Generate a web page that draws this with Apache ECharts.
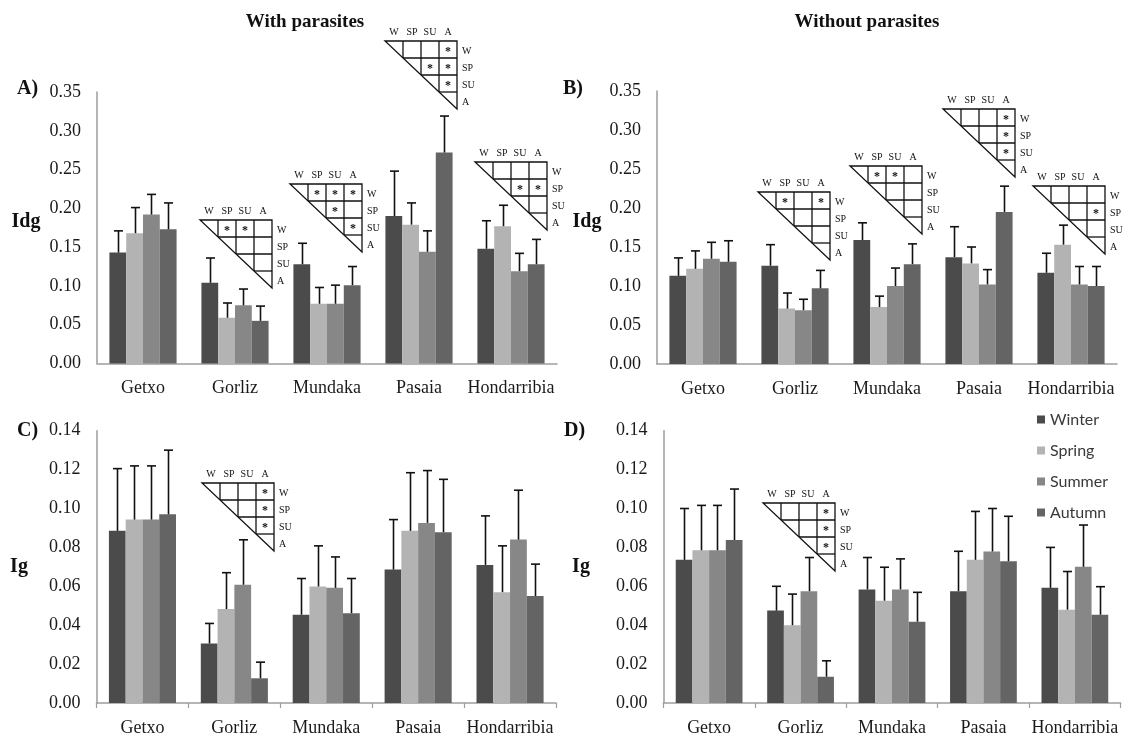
<!DOCTYPE html>
<html>
<head>
<meta charset="utf-8">
<script src="https://cdn.jsdelivr.net/npm/echarts@6/dist/echarts.min.js"></script>
<style>
  html, body { margin: 0; padding: 0; background: #fff; }
  #chart { width: 1129px; height: 737px; }
</style>
</head>
<body>
<div id="chart"></div>
<script>
// Sampling sites (x categories) and seasons (one bar series each)
const sites = ['Getxo', 'Gorliz', 'Mundaka', 'Pasaia', 'Hondarribia'];
const seasons = ['Winter', 'Spring', 'Summer', 'Autumn'];

// Axis tick values
const idgTicks = [0, 0.05, 0.10, 0.15, 0.20, 0.25, 0.30, 0.35];
const igTicks = [0, 0.02, 0.04, 0.06, 0.08, 0.10, 0.12, 0.14];

// Idg with parasites: rows Winter, Spring, Summer, Autumn; columns follow sites
const idgWithMean = [
  [0.143, 0.104, 0.128, 0.190, 0.148],
  [0.168, 0.059, 0.077, 0.179, 0.177],
  [0.192, 0.075, 0.077, 0.144, 0.119],
  [0.173, 0.055, 0.101, 0.272, 0.128]
];
const idgWithErr = [
  [0.028, 0.032, 0.027, 0.058, 0.036],
  [0.033, 0.019, 0.021, 0.028, 0.027],
  [0.026, 0.021, 0.024, 0.027, 0.023],
  [0.034, 0.019, 0.024, 0.047, 0.032]
];

// Idg without parasites
const idgWithoutMean = [
  [0.113, 0.126, 0.159, 0.137, 0.117],
  [0.122, 0.071, 0.073, 0.129, 0.153],
  [0.135, 0.069, 0.100, 0.102, 0.102],
  [0.131, 0.097, 0.128, 0.195, 0.100]
];
const idgWithoutErr = [
  [0.023, 0.027, 0.022, 0.039, 0.025],
  [0.023, 0.020, 0.014, 0.021, 0.025],
  [0.021, 0.014, 0.023, 0.019, 0.023],
  [0.027, 0.023, 0.026, 0.033, 0.025]
];

// Ig with parasites
const igWithMean = [
  [0.0885, 0.0306, 0.0454, 0.0686, 0.0710],
  [0.0943, 0.0483, 0.0599, 0.0885, 0.0570],
  [0.0943, 0.0608, 0.0592, 0.0926, 0.0840],
  [0.0970, 0.0127, 0.0462, 0.0878, 0.0550]
];
const igWithErr = [
  [0.0320, 0.0103, 0.0186, 0.0257, 0.0252],
  [0.0276, 0.0187, 0.0209, 0.0299, 0.0238],
  [0.0276, 0.0231, 0.0159, 0.0269, 0.0254],
  [0.0330, 0.0083, 0.0178, 0.0272, 0.0164]
];

// Ig without parasites
const igWithoutMean = [
  [0.0736, 0.0475, 0.0584, 0.0575, 0.0592],
  [0.0785, 0.0400, 0.0526, 0.0736, 0.0480],
  [0.0785, 0.0575, 0.0584, 0.0779, 0.0700],
  [0.0838, 0.0135, 0.0418, 0.0729, 0.0454]
];
const igWithoutErr = [
  [0.0264, 0.0125, 0.0164, 0.0205, 0.0208],
  [0.0231, 0.0160, 0.0172, 0.0249, 0.0196],
  [0.0231, 0.0173, 0.0157, 0.0221, 0.0215],
  [0.0262, 0.0082, 0.0151, 0.0231, 0.0144]
];

// Pairwise season differences marked with "*": [row, column] with W=0, SP=1, SU=2, A=3
const sigAGorliz = [[0, 1], [0, 2]];
const sigAMundaka = [[0, 1], [0, 2], [0, 3], [1, 2], [2, 3]];
const sigAPasaia = [[0, 3], [1, 2], [1, 3], [2, 3]];
const sigAHondarribia = [[1, 2], [1, 3]];
const sigBGorliz = [[0, 1], [0, 3]];
const sigBMundaka = [[0, 1], [0, 2]];
const sigBPasaia = [[0, 3], [1, 3], [2, 3]];
const sigBHondarribia = [[1, 3]];
const sigCGorliz = [[0, 3], [1, 3], [2, 3]];
const sigDGorliz = [[0, 3], [1, 3], [2, 3]];
const matrixLabels = ['W', 'SP', 'SU', 'A'];

// ---- presentation ----
const seasonColors = ['#4b4b4b', '#b3b3b3', '#878787', '#646464'];
const SERIF = 'Liberation Serif';
const CAT_GAP = 0.27;

const panels = [
  { mean: idgWithMean, err: idgWithErr, ticks: idgTicks, xTicks: false,
    grid: { left: 97, top: 92, width: 460, height: 271.5 } },
  { mean: idgWithoutMean, err: idgWithoutErr, ticks: idgTicks, xTicks: false,
    grid: { left: 657, top: 91, width: 460, height: 273 } },
  { mean: igWithMean, err: igWithErr, ticks: igTicks, xTicks: true,
    grid: { left: 96.5, top: 430.7, width: 459.5, height: 272.6 } },
  { mean: igWithoutMean, err: igWithoutErr, ticks: igTicks, xTicks: true,
    grid: { left: 663.4, top: 430.7, width: 457.2, height: 273.3 } }
];

const axisGray = '#9d9d9d';

const grids = panels.map(p => Object.assign({}, p.grid));

const xAxes = panels.map((p, i) => ({
  type: 'category',
  gridIndex: i,
  data: sites,
  axisLine: { lineStyle: { color: axisGray, width: 1.5 } },
  axisTick: { show: p.xTicks, length: 5, lineStyle: { color: axisGray, width: 1.2 } },
  axisLabel: { interval: 0, margin: 16, color: '#1a1a1a', fontFamily: SERIF, fontSize: 18 },
  splitLine: { show: false }
}));

const yAxes = panels.map((p, i) => ({
  type: 'value',
  gridIndex: i,
  min: p.ticks[0],
  max: p.ticks[p.ticks.length - 1],
  interval: p.ticks[1] - p.ticks[0],
  axisLine: { show: true, lineStyle: { color: axisGray, width: 1.5 } },
  axisTick: { show: false },
  splitLine: { show: false },
  axisLabel: {
    margin: 16, color: '#1a1a1a', fontFamily: SERIF, fontSize: 18,
    formatter: v => v.toFixed(2)
  }
}));

const series = [];
panels.forEach((p, pi) => {
  seasons.forEach((s, k) => {
    series.push({
      name: s,
      type: 'bar',
      xAxisIndex: pi,
      yAxisIndex: pi,
      data: p.mean[k],
      barGap: '0%',
      barCategoryGap: (CAT_GAP * 100) + '%',
      itemStyle: { color: seasonColors[k] },
      emphasis: { disabled: true }
    });
  });
  seasons.forEach((s, k) => {
    series.push({
      name: s + ' error',
      type: 'custom',
      xAxisIndex: pi,
      yAxisIndex: pi,
      z: 5,
      data: sites.map((site, i) => [i, p.mean[k][i], p.err[k][i]]),
      renderItem: (params, api) => {
        const xi = api.value(0);
        const m = api.value(1);
        const e = api.value(2);
        const base = api.coord([xi, m]);
        const top = api.coord([xi, m + e]);
        const band = api.size([1, 0])[0];
        const bw = band * (1 - CAT_GAP) / seasons.length;
        const x = Math.round(base[0] + (k - (seasons.length - 1) / 2) * bw) + 0.5;
        const st = { stroke: '#111', lineWidth: 1.6 };
        return {
          type: 'group',
          children: [
            { type: 'line', shape: { x1: x, y1: base[1], x2: x, y2: top[1] }, style: st },
            { type: 'line', shape: { x1: x - 4.5, y1: top[1], x2: x + 4.5, y2: top[1] }, style: st }
          ]
        };
      }
    });
  });
});

// Triangular significance matrix drawn as a graphic group
const CELL_W = 18, CELL_H = 17;
function matrixGraphic(x0, y0, marks) {
  const n = matrixLabels.length;
  const W = CELL_W * n, H = CELL_H * n;
  const line = { stroke: '#111', lineWidth: 1.3, fill: null };
  const children = [
    { type: 'polygon', shape: { points: [[0, 0], [W, 0], [W, H]] }, style: line }
  ];
  for (let k = 1; k < n; k++) {
    // horizontal rule from the diagonal to the right edge
    children.push({ type: 'line', shape: { x1: k * CELL_W, y1: k * CELL_H, x2: W, y2: k * CELL_H }, style: line });
    // vertical rule from the top edge down to the diagonal
    children.push({ type: 'line', shape: { x1: k * CELL_W, y1: 0, x2: k * CELL_W, y2: k * CELL_H }, style: line });
  }
  const font = '10px ' + SERIF;
  matrixLabels.forEach((lab, c) => {
    children.push({ type: 'text', x: c * CELL_W + CELL_W / 2, y: -9,
      style: { text: lab, font: font, fill: '#111', align: 'center', verticalAlign: 'middle' } });
    children.push({ type: 'text', x: W + 5, y: c * CELL_H + CELL_H / 2 + 1.5,
      style: { text: lab, font: font, fill: '#111', align: 'left', verticalAlign: 'middle' } });
  });
  marks.forEach(([r, c]) => {
    children.push({ type: 'text', x: c * CELL_W + CELL_W / 2, y: r * CELL_H + CELL_H / 2 + 2.5,
      style: { text: '*', font: 'bold 12px ' + SERIF, fill: '#111', align: 'center', verticalAlign: 'middle' } });
  });
  return { type: 'group', x: x0, y: y0, children: children };
}

function label(text, x, y, size, align) {
  return { type: 'text', x: x, y: y,
    style: { text: text, font: 'bold ' + size + 'px ' + SERIF, fill: '#111',
             align: align || 'center', verticalAlign: 'middle' } };
}

const graphics = [
  label('With parasites', 305, 22, 19),
  label('Without parasites', 867, 22, 19),
  label('A)', 17, 89, 20, 'left'),
  label('B)', 563, 89, 20, 'left'),
  label('C)', 17, 431, 20, 'left'),
  label('D)', 564, 431, 20, 'left'),
  label('Idg', 26, 222, 20),
  label('Idg', 587, 222, 20),
  label('Ig', 19, 567, 20),
  label('Ig', 581, 567, 20),
  matrixGraphic(200, 220, sigAGorliz),
  matrixGraphic(290, 184, sigAMundaka),
  matrixGraphic(385, 41, sigAPasaia),
  matrixGraphic(475, 162, sigAHondarribia),
  matrixGraphic(758, 192, sigBGorliz),
  matrixGraphic(850, 166, sigBMundaka),
  matrixGraphic(943, 109, sigBPasaia),
  matrixGraphic(1033, 186, sigBHondarribia),
  matrixGraphic(202, 483, sigCGorliz),
  matrixGraphic(763, 503, sigDGorliz)
];

const chart = echarts.init(document.getElementById('chart'), null, { renderer: 'canvas' });
chart.setOption({
  animation: false,
  backgroundColor: '#ffffff',
  textStyle: { fontFamily: SERIF },
  grid: grids,
  xAxis: xAxes,
  yAxis: yAxes,
  legend: {
    data: seasons,
    orient: 'vertical',
    left: 1032,
    top: 406,
    icon: 'rect',
    itemWidth: 8,
    itemHeight: 8,
    itemGap: 14,
    selectedMode: false,
    textStyle: { fontFamily: 'Lato', fontSize: 16, color: '#3a3a3a', lineHeight: 17 }
  },
  series: series,
  graphic: graphics
});
</script>
</body>
</html>
